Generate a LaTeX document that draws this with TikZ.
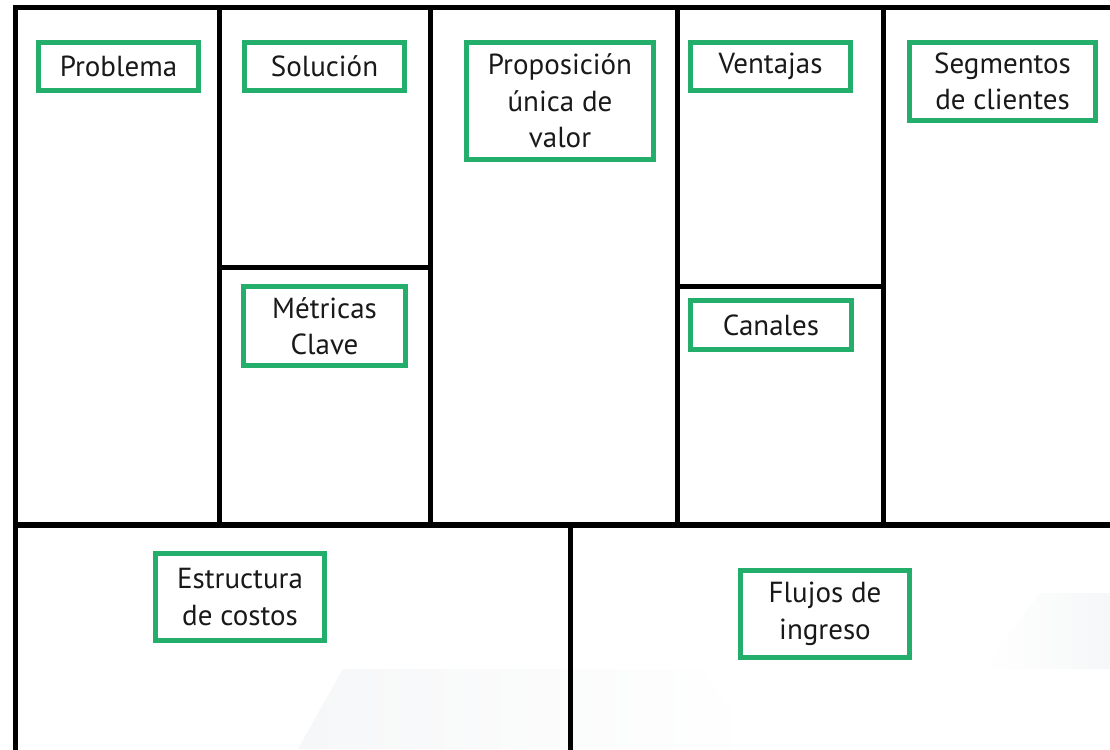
\documentclass[tikz,border=0pt]{standalone}
\usepackage{fontspec}
\setmainfont{PT Sans}
\definecolor{boxgreen}{RGB}{35,175,107}
\definecolor{faint}{RGB}{246,247,248}
\begin{document}
\begin{tikzpicture}[x=1pt,y=-1pt,
  frame/.style={line width=5pt,black},
  label/.style={draw=boxgreen,line width=5pt,inner sep=0pt,align=center,
    font=\fontsize{29}{36.5}\selectfont,text=black!90},
]
\useasboundingbox (0,0) rectangle (1110,749);
\clip (0,0) rectangle (1110,749);
\fill[white] (0,0) rectangle (1110,749);
% faint watermark shapes
\shade[left color=faint,right color=white] (343,669) -- (700,669) -- (760,749) -- (298,749) -- cycle;
\shade[left color=white,right color=faint] (984,669) -- (1110,669) -- (1110,593) -- (1040,593) -- cycle;
% frame lines
\coordinate (tl) at (15,8);
\coordinate (tr) at (1115,8);
\coordinate (bl) at (15,755);
\coordinate (ml) at (15,525);
\coordinate (mr) at (1115,525);
\draw[frame] (tr) -- (tl) -- (bl);
\draw[frame,line width=6pt] (ml) -- (mr);
\foreach \x/\n in {219/a,430/b,677/c,883/d}{
  \coordinate (v\n t) at (\x,8);
  \coordinate (v\n b) at (\x,525);
  \draw[frame] (v\n t) -- (v\n b);
}
\coordinate (ve t) at (570,525);
\coordinate (ve b) at (570,755);
\draw[frame] (ve t) -- (ve b);
\coordinate (h1l) at (219,267);
\coordinate (h1r) at (430,267);
\draw[frame] (h1l) -- (h1r);
\coordinate (h2l) at (677,286);
\coordinate (h2r) at (883,286);
\draw[frame] (h2l) -- (h2r);
% labels
\node[label,minimum width=160pt,minimum height=48pt] (problema) at (118.5,66.5) {Problema};
\node[label,minimum width=160pt,minimum height=48pt] (solucion) at (324.5,66.5) {Solución};
\node[label,minimum width=187pt,minimum height=117pt] (propuesta) at (560,101) {Proposición\\única de\\valor};
\node[label,minimum width=160pt,minimum height=48pt] (ventajas) at (770.5,66.5) {Ventajas};
\node[label,minimum width=186pt,minimum height=78pt] (segmentos) at (1002.5,81.5) {Segmentos\\de clientes};
\node[label,minimum width=162pt,minimum height=79pt] (metricas) at (324.5,326) {Métricas\\Clave};
\node[label,minimum width=161pt,minimum height=49pt] (canales) at (771,325) {Canales};
\node[label,minimum width=169pt,minimum height=87pt] (costos) at (240,597) {Estructura\\de costos};
\node[label,minimum width=169pt,minimum height=87pt] (ingresos) at (825,614) {Flujos de\\ingreso};
\end{tikzpicture}
\end{document}
